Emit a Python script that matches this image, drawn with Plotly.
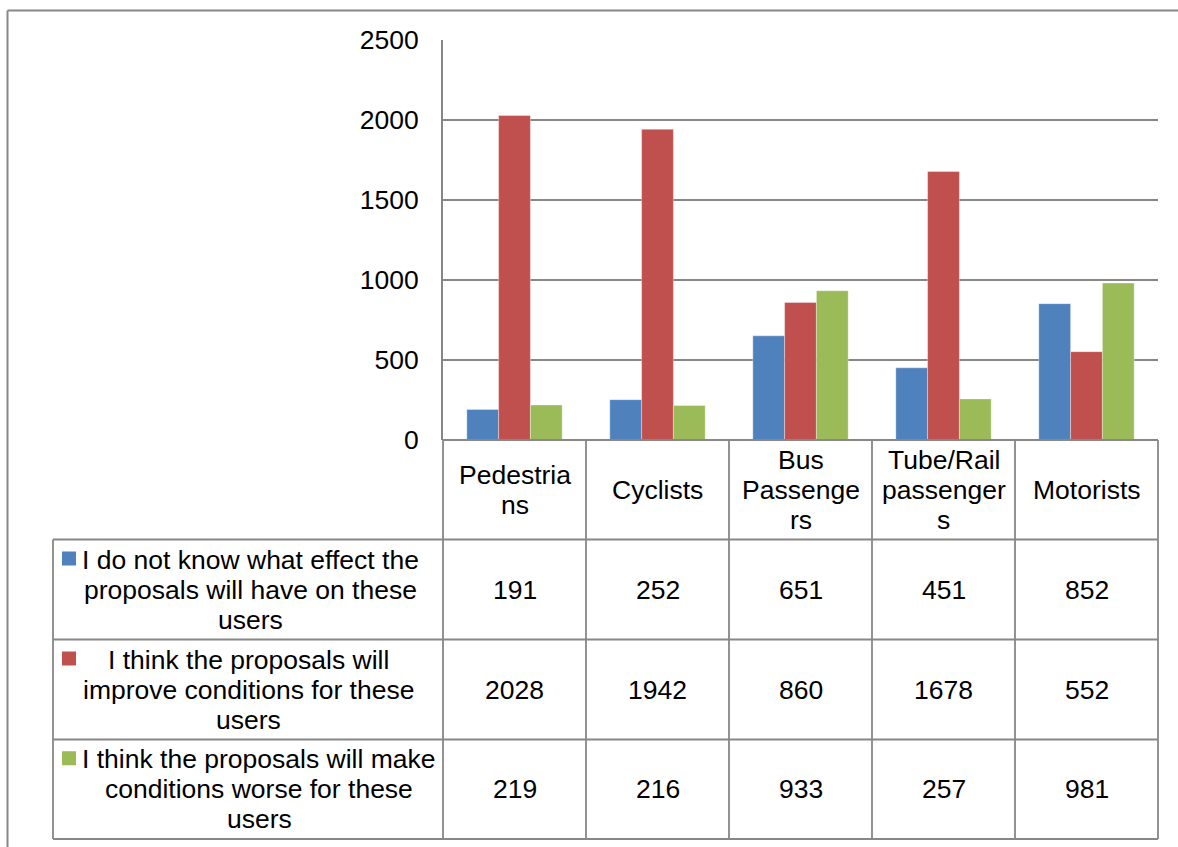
import plotly.graph_objects as go

# ---- data -------------------------------------------------------------
categories = ["Pedestrians", "Cyclists", "Bus Passengers",
              "Tube/Rail passengers", "Motorists"]
# header cell text, wrapped the way the table cell wraps it
header_lines = [["Pedestria", "ns"], ["Cyclists"], ["Bus", "Passenge", "rs"],
                ["Tube/Rail", "passenger", "s"], ["Motorists"]]

series_names = [
    "I do not know what effect the proposals will have on these users",
    "I think the proposals will improve conditions for these users",
    "I think the proposals will make conditions worse for these users",
]
series_lines = [
    ["I do not know what effect the", "proposals will have on these", "users"],
    ["I think the proposals will", "improve conditions for these", "users"],
    ["I think the proposals will make", "conditions worse for these", "users"],
]
dont_know = [191, 252, 651, 451, 852]
improve = [2028, 1942, 860, 1678, 552]
worse = [219, 216, 933, 257, 981]
series_values = [dont_know, improve, worse]
series_colors = ["#4F81BD", "#C0504D", "#9BBB59"]

y_ticks = [0, 500, 1000, 1500, 2000, 2500]

# ---- layout geometry (pixels) -----------------------------------------
W, H = 1178, 847
PLOT_L, PLOT_R = 443, 1158
PLOT_T, PLOT_B = 40, 440
TBL_L = 53
ROW_EDGES = [440, 539.5, 639.5, 739.5, 839]
LINE_H = 30
FONT = "Arial, Liberation Sans, sans-serif"
FS = 26.5
GRID = "#878787"
LABEL_CX = [250, 248, 259]


def fx(px):
    return px / W


def fy(py):
    return 1 - py / H


fig = go.Figure()
for name, vals, col in zip(series_names, series_values, series_colors):
    fig.add_trace(go.Bar(
        x=categories, y=vals, name=name,
        marker=dict(color=col, line=dict(color="rgba(255,255,255,0.35)", width=1)),
        showlegend=False, hoverinfo="x+y",
    ))

shapes = []
# outer chart border (top and left edges visible)
shapes.append(dict(type="line", xref="paper", yref="paper",
                   x0=fx(7.5), x1=fx(W + 5), y0=fy(10.5), y1=fy(10.5),
                   line=dict(color=GRID, width=2)))
shapes.append(dict(type="line", xref="paper", yref="paper",
                   x0=fx(7.5), x1=fx(7.5), y0=fy(10.5), y1=fy(H + 5),
                   line=dict(color=GRID, width=2)))

# data table grid
col_w = (PLOT_R - PLOT_L) / len(categories)
for i, ry in enumerate(ROW_EDGES):
    left = PLOT_L if i == 0 else TBL_L
    shapes.append(dict(type="line", xref="paper", yref="paper",
                       x0=fx(left), x1=fx(PLOT_R), y0=fy(ry), y1=fy(ry),
                       line=dict(color=GRID, width=1.8)))
for j in range(len(categories) + 1):
    xx = PLOT_L + j * col_w
    shapes.append(dict(type="line", xref="paper", yref="paper",
                       x0=fx(xx), x1=fx(xx), y0=fy(ROW_EDGES[0]), y1=fy(ROW_EDGES[-1]),
                       line=dict(color=GRID, width=1.8)))
shapes.append(dict(type="line", xref="paper", yref="paper",
                   x0=fx(TBL_L), x1=fx(TBL_L), y0=fy(ROW_EDGES[1]), y1=fy(ROW_EDGES[-1]),
                   line=dict(color=GRID, width=1.8)))

annotations = []


def add_lines(lines, cx, cy, xref="paper"):
    n = len(lines)
    for k, t in enumerate(lines):
        yy = cy + (k - (n - 1) / 2) * LINE_H
        annotations.append(dict(
            text=t, x=cx, y=fy(yy), xref=xref, yref="paper",
            xanchor="center", yanchor="middle", showarrow=False,
            font=dict(family=FONT, size=FS, color="#000000")))


# header row: category names
hc = (ROW_EDGES[0] + ROW_EDGES[1]) / 2
for cat, lines in zip(categories, header_lines):
    add_lines(lines, cat, hc, xref="x")

# series rows: legend key + label + values
for r, (lines, vals, col) in enumerate(zip(series_lines, series_values, series_colors)):
    rc = (ROW_EDGES[r + 1] + ROW_EDGES[r + 2]) / 2
    add_lines(lines, fx(LABEL_CX[r]), rc)
    ky = rc - LINE_H - 1
    shapes.append(dict(type="rect", xref="paper", yref="paper",
                       x0=fx(62), x1=fx(76), y0=fy(ky - 7), y1=fy(ky + 7),
                       fillcolor=col, line=dict(width=0)))
    for cat, v in zip(categories, vals):
        add_lines([str(v)], cat, rc, xref="x")

fig.update_layout(
    template="none",
    width=W, height=H, autosize=False,
    margin=dict(l=0, r=0, t=0, b=0, pad=0, autoexpand=False),
    paper_bgcolor="white", plot_bgcolor="white",
    barmode="group", bargap=0.333, bargroupgap=0,
    shapes=shapes, annotations=annotations,
    font=dict(family=FONT, size=FS, color="#000000"),
    xaxis=dict(domain=[fx(PLOT_L), fx(PLOT_R)], showticklabels=False,
               showgrid=False, zeroline=False, showline=False, ticks="",
               automargin=False, fixedrange=True),
    yaxis=dict(domain=[fy(PLOT_B), fy(PLOT_T)], range=[0, 2500],
               tickvals=y_ticks, ticktext=[str(t) for t in y_ticks],
               showgrid=True, gridcolor=GRID, gridwidth=1.8,
               zeroline=False, showline=True, linecolor=GRID, linewidth=1.8,
               ticks="", ticklabelstandoff=17, automargin=False,
               tickfont=dict(family=FONT, size=FS, color="#000000"),
               fixedrange=True),
)

fig.write_html("out.html", config={"displayModeBar": False})
